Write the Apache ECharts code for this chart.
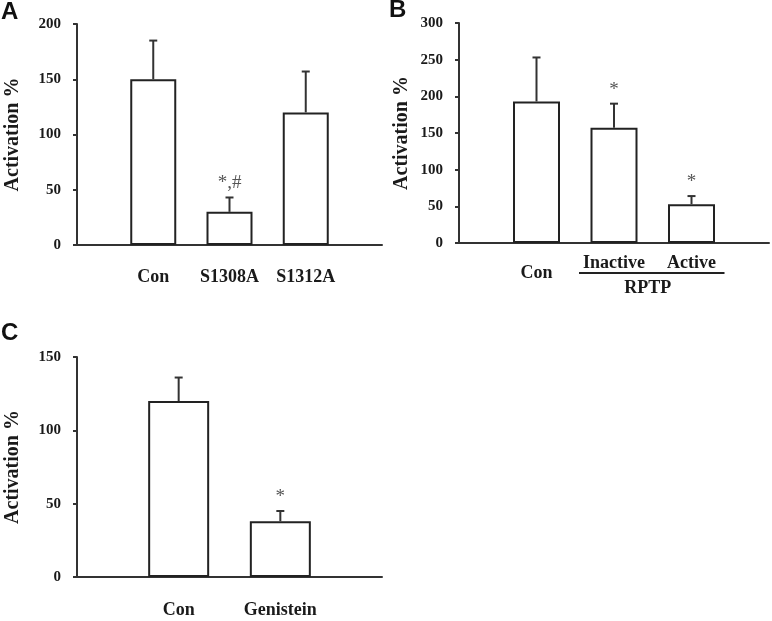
<!DOCTYPE html>
<html>
<head>
<meta charset="utf-8">
<script src="https://cdn.jsdelivr.net/npm/echarts@6/dist/echarts.min.js"></script>
<style>
html,body{margin:0;padding:0;background:#fff;}
#chart{width:772px;height:621px;}
</style>
</head>
<body>
<div id="chart"></div>
<script>
// Panel A
const catsA = ['Con', 'S1308A', 'S1312A'];
const meanA = [150, 30, 120];
const sdA = [35, 13, 37];
const markA = ['', '*,#', ''];
// Panel B
const catsB = ['Con', 'Inactive', 'Active'];
const meanB = [193, 157, 53];
const sdB = [60, 33, 11];
const markB = ['', '*', '*'];
const groupB = 'RPTP';
// Panel C
const catsC = ['Con', 'Genistein'];
const meanC = [120, 38];
const sdC = [16, 7];
const markC = ['', '*'];

const yName = 'Activation %';
const serif = '"Liberation Serif", "Times New Roman", serif';
const ink = '#1a1a1a';

function pad(arr, fill) { return [fill].concat(arr, [fill]); }

function errData(means, sds) {
  return means.map((m, i) => [i + 1, m + sds[i], m]);
}

const errMarks = {};

function errRender(params, api) {
  const x = api.value(0);
  const top = api.value(1);
  const mean = api.value(2);
  const p0 = api.coord([x, mean]);
  const p1 = api.coord([x, top]);
  const mark = errMarks[params.seriesIndex][params.dataIndex];
  const children = [
    { type: 'line', shape: { x1: p0[0], y1: p0[1], x2: p1[0], y2: p1[1] }, style: { stroke: '#333', lineWidth: 2 } },
    { type: 'line', shape: { x1: p1[0] - 4, y1: p1[1], x2: p1[0] + 4, y2: p1[1] }, style: { stroke: '#333', lineWidth: 2 } }
  ];
  if (mark) {
    children.push({ type: 'text', style: { text: mark, x: p1[0], y: p1[1] - 14, align: 'center', verticalAlign: 'middle', font: '19px ' + serif, fill: '#555' } });
  }
  return { type: 'group', children: children };
}

function yAxis(gi, max, interval, nameGap) {
  return {
    type: 'value', gridIndex: gi, min: 0, max: max, interval: interval,
    name: '{t|' + yName + '}', nameLocation: 'middle', nameGap: nameGap,
    nameTextStyle: {
      fontFamily: serif, fontWeight: 'bold', fontSize: 20, color: ink,
      rich: { t: { fontFamily: serif, fontWeight: 'bold', fontSize: 20, color: ink } }
    },
    axisLine: { show: true, lineStyle: { color: '#333', width: 2 } },
    axisTick: { show: true, length: 4, lineStyle: { color: '#333', width: 2 } },
    axisLabel: { fontFamily: serif, fontWeight: 'bold', fontSize: 15, color: ink, margin: 16 },
    splitLine: { show: false }
  };
}

function xAxis(gi, cats, margin, formatter, rich) {
  return {
    type: 'category', gridIndex: gi, data: pad(cats, ''), boundaryGap: false,
    axisLine: { lineStyle: { color: '#333', width: 2 } },
    axisTick: { show: false },
    axisLabel: { interval: 0, fontFamily: serif, fontWeight: 'bold', fontSize: 18, color: ink, margin: margin, formatter: formatter, rich: rich }
  };
}

function bars(xi, means, w) {
  return {
    type: 'bar', xAxisIndex: xi, yAxisIndex: xi, data: pad(means, '-'), barWidth: w,
    itemStyle: { color: '#fff', borderColor: '#222', borderWidth: 2 }, z: 2, silent: true
  };
}

const chart = echarts.init(document.getElementById('chart'), null, { renderer: 'canvas' });

const option = {
  animation: false,
  grid: [
    { left: 77, top: 24, width: 305, height: 221 },
    { left: 459, top: 23, width: 312, height: 220 },
    { left: 77, top: 357, width: 305, height: 220 }
  ],
  xAxis: [
    xAxis(0, catsA, 23),
    xAxis(1, catsB, 11, function (v) { return v === 'Con' ? '{c|' + v + '}' : v; }, { c: { fontFamily: serif, fontWeight: 'bold', fontSize: 18, color: ink, padding: [10, 0, 0, 0] } }),
    xAxis(2, catsC, 24)
  ],
  yAxis: [
    yAxis(0, 200, 50, 54),
    yAxis(1, 300, 50, 47),
    yAxis(2, 150, 50, 54)
  ],
  series: [
    bars(0, meanA, 46),
    bars(1, meanB, 47),
    bars(2, meanC, 61),
    { type: 'custom', xAxisIndex: 0, yAxisIndex: 0, data: errData(meanA, sdA), renderItem: errRender, z: 3, silent: true },
    { type: 'custom', xAxisIndex: 1, yAxisIndex: 1, data: errData(meanB, sdB), renderItem: errRender, z: 3, silent: true },
    { type: 'custom', xAxisIndex: 2, yAxisIndex: 2, data: errData(meanC, sdC), renderItem: errRender, z: 3, silent: true }
  ],
  graphic: [
    { type: 'text', left: 1, top: 0, style: { text: 'A', font: 'bold 24px "Liberation Sans", Arial, sans-serif', fill: '#111' } },
    { type: 'text', left: 389, top: -2, style: { text: 'B', font: 'bold 24px "Liberation Sans", Arial, sans-serif', fill: '#111' } },
    { type: 'text', left: 1, top: 321, style: { text: 'C', font: 'bold 24px "Liberation Sans", Arial, sans-serif', fill: '#111' } }
  ]
};
errMarks[3] = markA; errMarks[4] = markB; errMarks[5] = markC;

chart.setOption(option);

// RPTP grouping bracket under Inactive/Active, placed from the axis scale
const pInact = chart.convertToPixel({ xAxisIndex: 1, yAxisIndex: 1 }, [2, 0]);
const pAct = chart.convertToPixel({ xAxisIndex: 1, yAxisIndex: 1 }, [3, 0]);
const yLine = pInact[1] + 30;
option.graphic.push(
  { type: 'line', shape: { x1: pInact[0] - 35, y1: yLine, x2: pAct[0] + 33, y2: yLine }, style: { stroke: '#222', lineWidth: 2 } },
  { type: 'text', style: { text: groupB, x: (pInact[0] + pAct[0]) / 2 - 5, y: yLine + 15, align: 'center', verticalAlign: 'middle', font: 'bold 18px ' + serif, fill: ink } }
);
chart.setOption({ graphic: option.graphic });
</script>
</body>
</html>
